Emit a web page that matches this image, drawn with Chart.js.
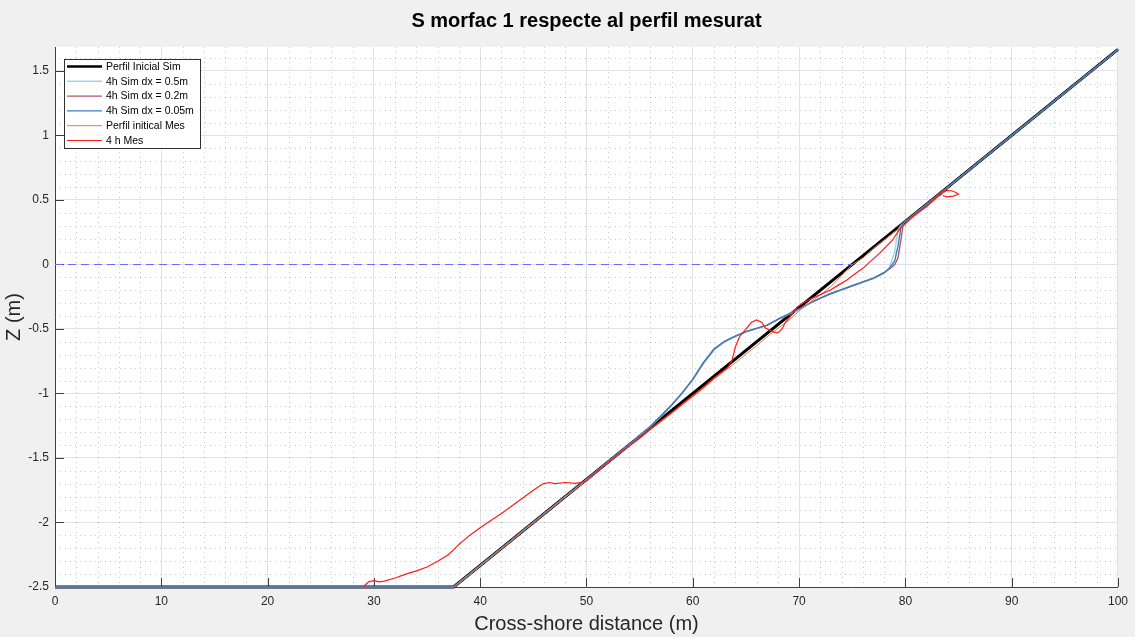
<!DOCTYPE html>
<html>
<head>
<meta charset="utf-8">
<script src="https://cdn.jsdelivr.net/npm/chart.js@4.4.1/dist/chart.umd.min.js"></script>
<style>
body { margin: 0; background: #f0f0f0; }
canvas { display: block; }
</style>
</head>
<body>
<canvas id="perfil" width="1135" height="637"></canvas>
<script>
// ticks dels eixos
var xTicks = [0, 10, 20, 30, 40, 50, 60, 70, 80, 90, 100];
var yTicks = [-2.5, -2, -1.5, -1, -0.5, 0, 0.5, 1, 1.5];

// Perfil Inicial Sim
var iniSimX = [0, 37.5, 100];
var iniSimZ = [-2.5, -2.5, 1.667];

// simulacions 4h (mateixes x per a les tres)
var simX = [0, 37.5, 45, 50, 55, 56, 57, 58, 59, 60, 61, 62, 63, 64, 65, 66, 67, 68, 69, 70,
            71, 72, 73, 74, 75, 76, 77, 78, 78.5, 79, 79.3, 79.6, 79.8, 80, 85, 90, 95, 100];
var sim05Z = [-2.5, -2.5, -2.0, -1.667, -1.33, -1.258, -1.18, -1.095, -1.0, -0.895, -0.77, -0.665, -0.6, -0.558, -0.524, -0.498, -0.472, -0.428, -0.388, -0.348,
              -0.303, -0.263, -0.228, -0.198, -0.168, -0.14, -0.11, -0.07, -0.02, 0.1, 0.27, 0.307, 0.32, 0.333, 0.667, 1.0, 1.333, 1.667];
var sim02Z = [-2.5, -2.5, -2.0, -1.667, -1.33, -1.255, -1.175, -1.09, -0.995, -0.89, -0.76, -0.655, -0.595, -0.555, -0.52, -0.495, -0.47, -0.425, -0.385, -0.345,
              -0.3, -0.26, -0.225, -0.195, -0.165, -0.135, -0.105, -0.062, -0.035, 0.0, 0.05, 0.2, 0.32, 0.333, 0.667, 1.0, 1.333, 1.667];
var sim005Z = [-2.5, -2.5, -2.0, -1.667, -1.33, -1.255, -1.175, -1.09, -0.995, -0.89, -0.76, -0.655, -0.595, -0.555, -0.52, -0.495, -0.47, -0.425, -0.385, -0.345,
               -0.3, -0.26, -0.225, -0.195, -0.165, -0.135, -0.105, -0.065, -0.03, 0.03, 0.14, 0.3, 0.32, 0.333, 0.667, 1.0, 1.333, 1.667];

// Perfil inicial mesurat
var iniMesX = [37.5, 38, 39, 40, 41, 42, 43, 44, 45, 46, 47, 48, 49, 50, 51, 52, 53, 54, 55, 56,
               57, 58, 59, 60, 61, 62, 63, 64, 65, 66, 67, 68, 69, 70, 71, 72, 73, 74, 75, 76,
               77, 78, 79, 80, 81, 82, 83, 84];
var iniMesZ = [-2.5, -2.47, -2.405, -2.335, -2.27, -2.2, -2.138, -2.065, -2.002, -1.935, -1.87, -1.8, -1.738, -1.672, -1.607, -1.538, -1.473, -1.41, -1.35, -1.283,
               -1.22, -1.155, -1.09, -1.025, -0.96, -0.89, -0.825, -0.762, -0.695, -0.63, -0.56, -0.495, -0.435, -0.36, -0.295, -0.235, -0.17, -0.085, 0.0, 0.05,
               0.125, 0.19, 0.255, 0.315, 0.385, 0.45, 0.515, 0.58];

// 4 h mesurat
var mes4hX = [29, 29.5, 30, 30.5, 31, 32, 33, 34, 35, 36, 37, 37.5, 38, 39, 40, 41, 42, 43, 44, 45,
              45.9, 46.5, 47, 48, 49, 50, 51, 52, 53, 54, 55, 56, 57, 58, 59, 60, 61, 62, 62.8, 63.3,
              63.7, 64.0, 64.4, 64.9, 65.5, 66.0, 66.5, 66.8, 67.5, 68.0, 68.4, 68.7, 69.3, 69.8, 70.5, 71.3, 72.1, 72.9, 73.7, 74.5,
              75.3, 76.0, 76.8, 77.6, 78.2, 78.8, 79.5, 80, 80.5, 81, 81.5, 82, 82.5, 83, 83.4, 83.9, 84.4, 84.7, 85.0, 84.5,
              83.9, 83.5];
var mes4hZ = [-2.5, -2.46, -2.45, -2.46, -2.455, -2.43, -2.4, -2.375, -2.345, -2.3, -2.25, -2.21, -2.17, -2.1, -2.04, -1.985, -1.93, -1.87, -1.81, -1.75,
              -1.7, -1.69, -1.698, -1.69, -1.697, -1.68, -1.605, -1.54, -1.47, -1.408, -1.345, -1.275, -1.212, -1.15, -1.082, -1.018, -0.952, -0.88, -0.83, -0.8,
              -0.74, -0.64, -0.56, -0.51, -0.45, -0.43, -0.45, -0.49, -0.52, -0.53, -0.5, -0.45, -0.39, -0.33, -0.29, -0.26, -0.23, -0.2, -0.16, -0.12,
              -0.07, -0.03, 0.03, 0.09, 0.14, 0.19, 0.28, 0.315, 0.36, 0.39, 0.42, 0.45, 0.49, 0.53, 0.56, 0.575, 0.57, 0.56, 0.545, 0.53,
              0.525, 0.535];

// nivell del mar
var nivellX = [0, 75];
var nivellZ = [0, 0];

function punts(xs, zs) {
    return xs.map(function (x, i) { return { x: x, y: zs[i] }; });
}

var FONT = '"Liberation Sans", Arial, Helvetica, sans-serif';

var matlabLook = {
    id: 'matlabLook',
    beforeDraw: function (chart) {
        var c = chart.ctx, a = chart.chartArea;
        c.save();
        c.fillStyle = '#f0f0f0';
        c.fillRect(0, 0, chart.width, chart.height);
        c.fillStyle = '#ffffff';
        c.fillRect(a.left, a.top, a.right - a.left, a.bottom - a.top);
        c.restore();
    },
    beforeDatasetsDraw: function (chart) {
        var c = chart.ctx, a = chart.chartArea;
        var xs = chart.scales.x, ys = chart.scales.y;
        c.save();
        // graella menor puntejada
        c.strokeStyle = 'rgba(38,38,38,0.25)';
        c.lineWidth = 1;
        c.setLineDash([1, 4]);
        c.beginPath();
        for (var v = 2; v < 100; v += 2) {
            if (v % 10 === 0) continue;
            var px = Math.round(xs.getPixelForValue(v)) + 0.5;
            c.moveTo(px, a.top);
            c.lineTo(px, a.bottom);
        }
        for (var k = -24; k <= 16; k++) {
            if (k % 5 === 0) continue;
            var py = Math.round(ys.getPixelForValue(k / 10)) + 0.5;
            c.moveTo(a.left, py);
            c.lineTo(a.right, py);
        }
        c.stroke();
        // ticks cap a dins
        c.setLineDash([]);
        c.strokeStyle = '#404040';
        c.beginPath();
        xTicks.forEach(function (t) {
            var px = Math.round(xs.getPixelForValue(t)) + 0.5;
            c.moveTo(px, a.bottom);
            c.lineTo(px, a.bottom - 9);
        });
        yTicks.forEach(function (t) {
            var py = Math.round(ys.getPixelForValue(t)) + 0.5;
            c.moveTo(a.left, py);
            c.lineTo(a.left + 9, py);
        });
        c.stroke();
        c.restore();
    },
    afterDraw: function (chart) {
        var c = chart.ctx, a = chart.chartArea;
        c.save();
        // titol
        c.fillStyle = '#000';
        c.font = 'bold 20px ' + FONT;
        c.textAlign = 'center';
        c.textBaseline = 'middle';
        c.fillText('S morfac 1 respecte al perfil mesurat', (a.left + a.right) / 2, 21);
        // llegenda
        var lx = a.left + 9, ly = a.top + 12;
        var items = chart.data.datasets.filter(function (d) { return d.label; });
        c.fillStyle = '#fff';
        c.fillRect(lx, ly, 136, 89);
        c.strokeStyle = '#303030';
        c.lineWidth = 1;
        c.strokeRect(lx + 0.5, ly + 0.5, 136, 89);
        c.font = '10.5px ' + FONT;
        c.textAlign = 'left';
        items.forEach(function (d, i) {
            var yy = ly + 7.5 + i * 14.8;
            c.strokeStyle = d.borderColor;
            c.lineWidth = Math.min(d.borderWidth, 2.6);
            c.beginPath();
            c.moveTo(lx + 3, yy);
            c.lineTo(lx + 38, yy);
            c.stroke();
            c.fillStyle = '#000';
            c.fillText(d.label, lx + 42, yy + 0.5);
        });
        c.restore();
    }
};

var ctx = document.getElementById('perfil').getContext('2d');
var perfil = new Chart(ctx, {
    type: 'line',
    data: {
        datasets: [
            { label: 'Perfil Inicial Sim', data: punts(iniSimX, iniSimZ), borderColor: '#000000', borderWidth: 3, order: 7 },
            { label: '4h Sim dx = 0.5m', data: punts(simX, sim05Z), borderColor: '#9fd3ec', borderWidth: 1.4, order: 6 },
            { label: '4h Sim dx = 0.2m', data: punts(simX, sim02Z), borderColor: '#b3566f', borderWidth: 1.4, order: 5 },
            { label: '4h Sim dx = 0.05m', data: punts(simX, sim005Z), borderColor: '#3c7fba', borderWidth: 1.4, order: 4 },
            { label: 'Perfil initical Mes', data: punts(iniMesX, iniMesZ), borderColor: '#e07a50', borderWidth: 1, order: 3 },
            { label: '4 h Mes', data: punts(mes4hX, mes4hZ), borderColor: '#ff1a1a', borderWidth: 1.2, order: 2 },
            { label: '', data: punts(nivellX, nivellZ), borderColor: '#6a6aff', borderWidth: 1, borderDash: [8, 5], order: 1 }
        ]
    },
    options: {
        responsive: false,
        animation: false,
        events: [],
        layout: { padding: { top: 47, right: 17, left: 0, bottom: 0 } },
        elements: { point: { radius: 0 }, line: { tension: 0, fill: false } },
        datasets: { line: { clip: false } },
        plugins: {
            legend: { display: false },
            title: { display: false },
            tooltip: { enabled: false }
        },
        scales: {
            x: {
                type: 'linear', min: 0, max: 100,
                afterBuildTicks: function (s) { s.ticks = xTicks.map(function (v) { return { value: v }; }); },
                afterFit: function (s) { s.height = 50; },
                grid: { color: '#e1e1e1', drawTicks: false },
                border: { color: '#404040', width: 1 },
                ticks: { padding: 7, color: '#262626', font: { family: FONT, size: 12 }, maxRotation: 0,
                         callback: function (v) { return String(v); } },
                title: { display: true, text: 'Cross-shore distance (m)', color: '#262626',
                         font: { family: FONT, size: 20 }, padding: { top: 0, bottom: 1 } }
            },
            y: {
                type: 'linear', min: -2.5, max: 1.686,
                afterBuildTicks: function (s) { s.ticks = yTicks.map(function (v) { return { value: v }; }); },
                afterFit: function (s) { s.width = 55; },
                grid: { color: '#e1e1e1', drawTicks: false },
                border: { color: '#404040', width: 1 },
                ticks: { padding: 6, color: '#262626', font: { family: FONT, size: 12 },
                         callback: function (v) { return String(v); } },
                title: { display: true, text: 'Z (m)', color: '#262626',
                         font: { family: FONT, size: 20 }, padding: { top: 2, bottom: 0 } }
            }
        }
    },
    plugins: [matlabLook]
});
</script>
</body>
</html>
